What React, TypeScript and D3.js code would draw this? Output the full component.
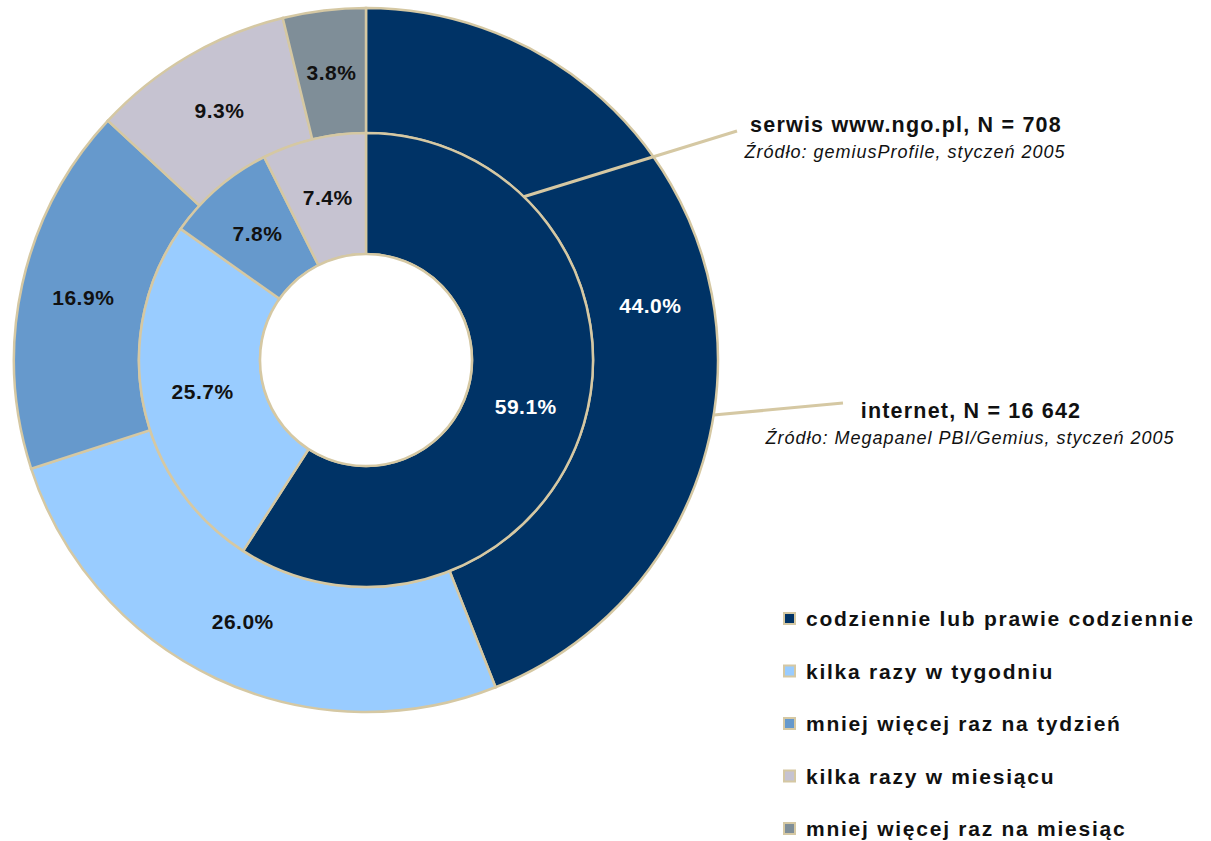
import React from "react";
import * as d3 from "d3";

const categories = [
  "codziennie lub prawie codziennie",
  "kilka razy w tygodniu",
  "mniej więcej raz na tydzień",
  "kilka razy w miesiącu",
  "mniej więcej raz na miesiąc",
];
const colors = ["#003366", "#99CCFF", "#6699CC", "#C6C3D1", "#7F8E98"];
const internetValues = [44.0, 26.0, 16.9, 9.3, 3.8];
const ngoValues = [59.1, 25.7, 7.8, 7.4, 0];

const ngoTitle = "serwis www.ngo.pl, N = 708";
const ngoSource = "Źródło: gemiusProfile, styczeń 2005";
const netTitle = "internet, N = 16 642";
const netSource = "Źródło: Megapanel PBI/Gemius, styczeń 2005";

const W = 1211;
const H = 841;
const cx = 366;
const cy = 360;
const rOuter = 352;
const rMid = 227;
const rHole = 106;
const border = "#D5C8A3";
const font = "'Liberation Sans', Arial, sans-serif";

export default function App() {
  const pie = d3
    .pie<number>()
    .sort(null)
    .value((d) => d)
    .startAngle(0)
    .endAngle(2 * Math.PI);
  const outerArcs = pie(internetValues);
  const innerArcs = pie(ngoValues);
  const outerArc = d3.arc<d3.PieArcDatum<number>>().innerRadius(rMid).outerRadius(rOuter);
  const innerArc = d3.arc<d3.PieArcDatum<number>>().innerRadius(rHole).outerRadius(rMid);

  const fmt = (v: number) => v.toFixed(1) + "%";

  const legendY = d3.scaleLinear().domain([0, 4]).range([619, 829]);

  // leader lines
  const a1 = (44 * Math.PI) / 180;
  const p1 = [cx + rMid * Math.sin(a1), cy - rMid * Math.cos(a1)];
  const a2 = (99 * Math.PI) / 180;
  const p2 = [cx + rOuter * Math.sin(a2), cy - rOuter * Math.cos(a2)];

  const label = (key: string, x: number, y: number, txt: string, white: boolean) => (
    <text
      key={key}
      x={x}
      y={y}
      dy="0.35em"
      textAnchor="middle"
      fontFamily={font}
      fontWeight="bold"
      fontSize={21}
      letterSpacing={0.5}
      fill={white ? "#fff" : "#111"}
    >
      {txt}
    </text>
  );

  return (
    <svg
      width={W}
      height={H}
      style={{ position: "absolute", left: 0, top: 0, background: "#fff" }}
    >
      <g transform={`translate(${cx},${cy})`}>
        {outerArcs.map((a, i) => (
          <path key={"o" + i} d={outerArc(a) || ""} fill={colors[i]} stroke={border} strokeWidth={2.5} />
        ))}
        {innerArcs.map((a, i) =>
          a.value > 0 ? (
            <path key={"i" + i} d={innerArc(a) || ""} fill={colors[i]} stroke={border} strokeWidth={2.5} />
          ) : null
        )}
        <circle r={rHole} fill="#fff" stroke={border} strokeWidth={2.5} />
        {outerArcs.map((a, i) => {
          const [x, y] = outerArc.centroid(a);
          return label("ol" + i, x, y, fmt(a.value), i === 0);
        })}
        {innerArcs.map((a, i) => {
          if (a.value <= 0) return null;
          const [x, y] = innerArc.centroid(a);
          return label("il" + i, x, y, fmt(a.value), i === 0);
        })}
      </g>
      <line x1={p1[0]} y1={p1[1]} x2={737} y2={131} stroke={border} strokeWidth={3} />
      <line x1={p2[0]} y1={p2[1]} x2={843} y2={403} stroke={border} strokeWidth={3} />

      <text x={906} y={132} textAnchor="middle" fontFamily={font} fontWeight="bold" fontSize={21.5} letterSpacing={1.2} fill="#111">
        {ngoTitle}
      </text>
      <text x={905} y={158} textAnchor="middle" fontFamily={font} fontStyle="italic" fontSize={18} letterSpacing={1} fill="#111">
        {ngoSource}
      </text>
      <text x={971} y={418} textAnchor="middle" fontFamily={font} fontWeight="bold" fontSize={21.5} letterSpacing={1.2} fill="#111">
        {netTitle}
      </text>
      <text x={970} y={444} textAnchor="middle" fontFamily={font} fontStyle="italic" fontSize={18} letterSpacing={1} fill="#111">
        {netSource}
      </text>

      {categories.map((c, i) => (
        <g key={"lg" + i} transform={`translate(0,${legendY(i)})`}>
          <rect x={784} y={-6} width={11} height={11} fill={colors[i]} stroke={border} strokeWidth={2} />
          <text
            x={806}
            y={0}
            dy="0.35em"
            fontFamily={font}
            fontWeight="bold"
            fontSize={21}
            letterSpacing={1.75}
            fill="#111"
          >
            {c}
          </text>
        </g>
      ))}
    </svg>
  );
}
